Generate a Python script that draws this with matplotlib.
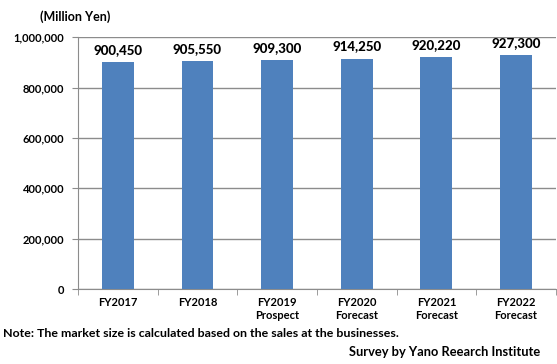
import matplotlib
matplotlib.use("Agg")
import matplotlib.pyplot as plt
from matplotlib.ticker import FuncFormatter

categories = ["FY2017", "FY2018", "FY2019\nProspect", "FY2020\nForecast", "FY2021\nForecast", "FY2022\nForecast"]
values = [900450, 905550, 909300, 914250, 920220, 927300]
yticks = [0, 200000, 400000, 600000, 800000, 1000000]

plt.rcParams['font.family'] = ['Lato', 'DejaVu Sans']

fig = plt.figure(figsize=(5.57, 3.64), dpi=100)
ax = fig.add_axes([0.140, 0.206, 0.858, 0.692])

x = list(range(len(categories)))
ax.bar(x, values, width=0.4, color="#4F81BD", zorder=3)
for xi, v in zip(x, values):
    ax.text(xi, v + 25000, f"{v:,}", ha="center", va="bottom", fontsize=9.5, fontweight="black", color="black")

ax.set_xlim(-0.5, len(categories) - 0.5)
ax.set_ylim(0, 1000000)
ax.set_yticks(yticks)
ax.yaxis.set_major_formatter(FuncFormatter(lambda v, p: f"{int(v):,}"))
ax.grid(axis="y", color="#8c8c8c", linewidth=1, zorder=0)
ax.set_xticks(x)
ax.set_xticklabels(categories, fontsize=8, fontweight="bold", linespacing=1.15)
ax.set_xticks([i - 0.5 for i in range(len(categories) + 1)], minor=True)
ax.tick_params(axis="x", which="major", length=0, pad=6)
ax.tick_params(axis="x", which="minor", length=4, color="#8c8c8c")
ax.tick_params(axis="y", length=4, color="#8c8c8c", labelsize=8, pad=6)
for lbl in ax.get_yticklabels():
    lbl.set_fontweight("bold")
for s in ["top", "right"]:
    ax.spines[s].set_visible(False)
ax.spines["left"].set_color("#8c8c8c")
ax.spines["bottom"].set_color("#8c8c8c")

fig.text(0.072, 0.953, "(Million Yen)", fontsize=9, fontweight="bold", ha="left", va="center")
fig.text(0.006, 0.083, "Note: The market size is calculated based on the sales at the businesses.", fontsize=8.9, fontweight="bold", ha="left", va="center")
fig.text(0.970, 0.033, "Survey by Yano Reearch Institute", fontsize=9.3, fontweight="bold", ha="right", va="center")

fig.savefig("out.png", dpi=100)
